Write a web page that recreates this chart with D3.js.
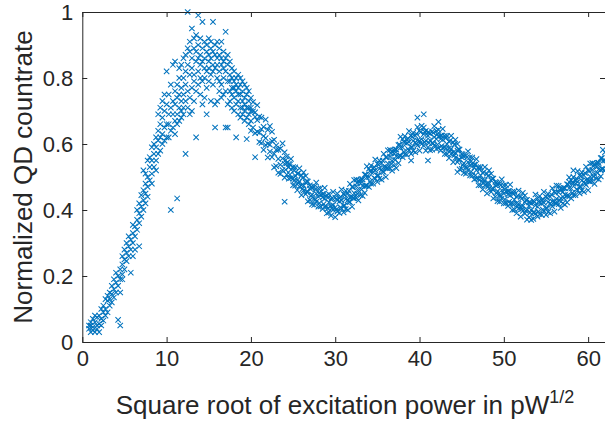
<!DOCTYPE html>
<html>
<head>
<meta charset="utf-8">
<script src="https://cdn.jsdelivr.net/npm/d3@7"></script>
<style>
  body { margin: 0; background: #fff; }
  svg text { font-family: "Liberation Sans", Arial, sans-serif; fill: #262626; }
</style>
</head>
<body>
<div id="chart"></div>
<script>
// Données : [x, [y, y, ...]]
const rise = [
  [0.8, [.05, .04]], [1.0, [.06, .03, .05]], [1.25, [.045, .07, .035]], [1.5, [.06, .03, .08]],
  [1.75, [.05, .075, .04]], [2.0, [.08, .055, .03]], [2.25, [.07, .10, .05]], [2.5, [.09, .065, .11]],
  [2.75, [.10, .08, .13]], [3.0, [.125, .09, .14]], [3.25, [.11, .15, .13]], [3.5, [.145, .12, .17]],
  [3.75, [.16, .135, .19]], [4.0, [.18, .15, .21]], [4.25, [.17, .20, .067]], [4.5, [.22, .19, .05, .15]],
  [4.75, [.235, .205, .26, .19]], [5.0, [.25, .22, .28]], [5.25, [.27, .245, .30]], [5.5, [.29, .26, .32]],
  [5.75, [.31, .28, .21]], [6.0, [.33, .30, .355, .26]], [6.25, [.35, .32, .28]], [6.5, [.37, .34, .40]],
  [6.75, [.39, .36, .42, .29]], [7.0, [.41, .38, .445]], [7.25, [.43, .40, .46, .52]], [7.5, [.45, .42, .48, .51]],
  [7.75, [.47, .44, .50, .55]], [8.0, [.49, .53, .56]], [8.25, [.51, .48, .55, .59]], [8.5, [.53, .57, .60]],
  [8.75, [.55, .59, .62, .52]], [9.0, [.57, .61, .64, .69]], [9.25, [.58, .62, .66, .71]], [9.5, [.60, .63, .68, .73]],
  [9.75, [.61, .65, .70, .75]], [10.0, [.62, .66, .72, .82]]
];

const peak = [
  [10.25, [.62, .69, .75, .66]], [10.5, [.64, .71, .40, .78]], [10.75, [.65, .73, .84, .69]],
  [11.0, [.67, .76, .72, .85, .63]], [11.25, [.69, .435, .78, .74, .66]], [11.5, [.71, .80, .75, .67, .83]],
  [11.75, [.73, .68, .84, .77, .70]], [12.0, [.75, .86, .71, .80, .69]], [12.25, [.78, .57, .87, .73, .82]],
  [12.5, [1.0, .84, .76, .89, .71]], [12.75, [.81, .88, .74, .91, .69]], [13.0, [.95, .83, .77, .86, .70]],
  [13.25, [.89, .81, .73, .92, .79]], [13.5, [.93, .62, .85, .76, .88]], [13.75, [.99, .82, .90, .78, .86]],
  [14.0, [.87, .80, .92, .75, .84]], [14.25, [.97, .85, .79, .89, .72]], [14.5, [.91, .83, .86, .74, .80]],
  [14.75, [.69, .88, .82, .90, .77]], [15.0, [.85, .92, .79, .87, .83]], [15.25, [.89, .81, .73, .86, .91]],
  [15.5, [.97, .84, .88, .78, .82]], [15.75, [.65, .90, .83, .87, .72]], [16.0, [.86, .80, .91, .73, .84]],
  [16.25, [.89, .82, .76, .87, .79]], [16.5, [.84, .91, .78, .86, .74]], [16.75, [.88, .80, .83, .75, .85]],
  [17.0, [.94, .82, .76, .86, .65]], [17.25, [.84, .79, .72, .87, .65]], [17.5, [.81, .85, .76, .73, .79]],
  [17.75, [.83, .77, .80, .71, .75]], [18.0, [.79, .82, .74, .70, .77]], [18.25, [.80, .76, .62, .72, .78]],
  [18.5, [.77, .81, .73, .69, .75]], [18.75, [.78, .71, .75, .68, .80]], [19.0, [.76, .73, .69, .79, .71]],
  [19.25, [.74, .78, .70, .67, .72]], [19.5, [.75, .71, .615, .68, .77]], [19.75, [.73, .69, .76, .66, .71]],
  [20.0, [.71, .74, .67, .64, .70]]
];

const fall = [
  [20.25, [.699, .65, .727]], [20.5, [.633, .696, .682, .56]], [20.75, [.637, .718, .672]],
  [21.0, [.634, .683, .606]], [21.25, [.645, .68, .603]], [21.5, [.652, .582, .624]],
  [21.75, [.674, .618, .597]], [22.0, [.643, .601, .559]], [22.25, [.654, .598, .577]],
  [22.5, [.609, .56, .637]], [22.75, [.613, .571, .529]], [23.0, [.533, .596, .582]],
  [23.25, [.583, .513, .555]], [23.5, [.537, .586, .509]], [23.75, [.521, .602, .556]],
  [24.0, [.54, .575, .498, .425]], [24.25, [.542, .507, .562]], [24.5, [.495, .54, .53]],
  [24.75, [.497, .555, .522]], [25.0, [.495, .53, .475]], [25.25, [.504, .529, .474]],
  [25.5, [.51, .46, .49]], [25.75, [.526, .486, .471]], [26.0, [.505, .475, .445]],
  [26.25, [.514, .474, .459]], [26.5, [.483, .448, .503]], [26.75, [.486, .456, .426]],
  [27.0, [.43, .475, .465]], [27.25, [.467, .417, .447]], [27.5, [.435, .47, .415]],
  [27.75, [.425, .483, .45]], [28.0, [.44, .465, .41]], [28.25, [.446, .411, .466]],
  [28.5, [.403, .448, .438]], [28.75, [.409, .467, .434]], [29.0, [.41, .445, .39]],
  [29.25, [.423, .448, .393]], [29.5, [.433, .383, .413]], [29.75, [.455, .415, .40]],
  [30.0, [.438, .408, .378]]
];

const hump = [
  [30.25, [.43, .395, .45]], [30.5, [.391, .436, .426]], [30.75, [.404, .462, .429]],
  [31.0, [.413, .448, .393]], [31.25, [.433, .458, .403]], [31.5, [.45, .40, .43]],
  [31.75, [.479, .439, .424]], [32.0, [.47, .44, .41]], [32.25, [.491, .451, .436]],
  [32.5, [.472, .437, .492]], [32.75, [.489, .459, .429]], [33.0, [.445, .49, .48]],
  [33.25, [.493, .443, .473]], [33.5, [.472, .507, .452]], [33.75, [.474, .532, .499]],
  [34.0, [.50, .525, .47]], [34.25, [.515, .48, .535]], [34.5, [.48, .525, .515]],
  [34.75, [.495, .553, .52]], [35.0, [.505, .54, .485]], [35.25, [.525, .55, .495]],
  [35.5, [.542, .492, .522]], [35.75, [.57, .53, .515]], [36.0, [.56, .53, .50]],
  [36.25, [.581, .541, .526]], [36.5, [.562, .527, .582]], [36.75, [.579, .549, .519]],
  [37.0, [.535, .58, .57]], [37.25, [.583, .527, .563]], [37.5, [.562, .597, .542]],
  [37.75, [.564, .622, .589]], [38.0, [.59, .615, .56]], [38.25, [.604, .569, .624]],
  [38.5, [.568, .613, .603]], [38.75, [.581, .639, .606]], [39.0, [.59, .625, .57, .55]],
  [39.25, [.609, .634, .579]], [39.5, [.625, .575, .605]], [39.75, [.651, .611, .596, .68]],
  [40.0, [.64, .61, .58]], [40.25, [.655, .615, .60]], [40.5, [.63, .595, .65, .69]],
  [40.75, [.64, .61, .58]], [41.0, [.59, .635, .625, .55]], [41.25, [.631, .581, .611]],
  [41.5, [.603, .638, .583]], [41.75, [.596, .654, .621]], [42.0, [.615, .64, .585]],
  [42.25, [.623, .588, .643, .667]], [42.5, [.58, .625, .615]], [42.75, [.588, .646, .613]],
  [43.0, [.59, .625, .57]], [43.25, [.60, .625, .57]], [43.5, [.607, .557, .587]],
  [43.75, [.625, .585, .57]], [44.0, [.605, .575, .545]], [44.25, [.613, .573, .558]],
  [44.5, [.58, .545, .60, .515]], [44.75, [.583, .553, .523]], [45.0, [.525, .57, .56]],
  [45.25, [.562, .512, .542]], [45.5, [.53, .565, .51]], [45.75, [.52, .578, .545]]
];

const tail = [
  [46.0, [.535, .56, .505]], [46.25, [.539, .504, .559]], [46.5, [.493, .538, .528]],
  [46.75, [.496, .554, .521]], [47.0, [.495, .53, .475]], [47.25, [.505, .53, .475]],
  [47.5, [.512, .462, .492]], [47.75, [.53, .49, .475]], [48.0, [.51, .48, .45]],
  [48.25, [.52, .48, .465]], [48.5, [.49, .455, .51]], [48.75, [.495, .465, .435]],
  [49.0, [.44, .485, .475]], [49.25, [.477, .427, .457]], [49.5, [.445, .48, .425]],
  [49.75, [.435, .493, .46]], [50.0, [.45, .475, .42]], [50.25, [.456, .421, .476]],
  [50.5, [.412, .457, .447]], [50.75, [.419, .477, .444]], [51.0, [.42, .455, .40]],
  [51.25, [.431, .456, .401]], [51.5, [.44, .39, .42]], [51.75, [.459, .419, .404]],
  [52.0, [.44, .41, .38]], [52.25, [.452, .412, .397]], [52.5, [.424, .389, .444]],
  [52.75, [.431, .401, .371]], [53.0, [.378, .423, .413]], [53.25, [.42, .37, .40]],
  [53.5, [.393, .428, .373]], [53.75, [.389, .447, .414]], [54.0, [.41, .435, .38]],
  [54.25, [.422, .387, .442]], [54.5, [.385, .43, .42]], [54.75, [.397, .455, .422]],
  [55.0, [.405, .44, .385]], [55.25, [.424, .449, .394]], [55.5, [.44, .39, .42]],
  [55.75, [.466, .426, .411]], [56.0, [.455, .425, .395]], [56.25, [.474, .434, .419]],
  [56.5, [.453, .418, .473]], [56.75, [.466, .436, .406]], [57.0, [.42, .465, .455]],
  [57.25, [.466, .416, .446]], [57.5, [.443, .478, .423]], [57.75, [.441, .499, .466, .485]],
  [58.0, [.465, .49, .435]], [58.25, [.48, .445, .50, .52]], [58.5, [.445, .49, .48]],
  [58.75, [.46, .518, .485]], [59.0, [.47, .505, .45]], [59.25, [.489, .514, .459]],
  [59.5, [.505, .455, .485]], [59.75, [.531, .491, .476]], [60.0, [.52, .49, .46]],
  [60.25, [.541, .501, .486]], [60.5, [.522, .487, .542]], [60.75, [.539, .509, .479]],
  [61.0, [.495, .54, .53]], [61.25, [.543, .493, .523]], [61.5, [.522, .557, .502]],
  [61.75, [.524, .582, .549]], [62.0, [.55, .575, .52]]
];

// points intermédiaires de la bande (24 à 62)
const band = [
  [24.125, [.551, .522]], [24.625, [.507, .538]], [25.125, [.52, .489]], [25.625, [.481, .511]],
  [26.125, [.497, .464]], [26.625, [.455, .488]], [27.125, [.47, .442]], [27.625, [.432, .462]],
  [28.125, [.452, .421]], [28.625, [.418, .449]], [29.125, [.437, .405]], [29.625, [.406, .436]],
  [30.125, [.433, .401]], [30.625, [.408, .44]], [31.125, [.446, .414]], [31.625, [.425, .458]],
  [32.125, [.469, .436]], [32.625, [.449, .482]], [33.125, [.494, .462]], [33.625, [.474, .507]],
  [34.125, [.518, .486]], [34.625, [.497, .53]], [35.125, [.538, .505]], [35.625, [.516, .55]],
  [36.125, [.559, .527]], [36.625, [.54, .572]], [37.125, [.584, .552]], [37.625, [.565, .598]],
  [38.125, [.607, .576]], [38.625, [.585, .617]], [39.125, [.622, .591]], [39.625, [.60, .631]],
  [40.125, [.636, .604]], [40.625, [.605, .637]], [41.125, [.635, .603]], [41.625, [.602, .634]],
  [42.125, [.63, .598]], [42.625, [.594, .626]], [43.125, [.618, .586]], [43.625, [.578, .61]],
  [44.125, [.598, .566]], [44.625, [.552, .584]], [45.125, [.568, .536]], [45.625, [.528, .56]],
  [46.125, [.548, .516]], [46.625, [.505, .537]], [47.125, [.523, .491]], [47.625, [.483, .515]],
  [48.125, [.503, .471]], [48.625, [.463, .495]], [49.125, [.483, .451]], [49.625, [.443, .475]],
  [50.125, [.463, .432]], [50.625, [.425, .457]], [51.125, [.448, .417]], [51.625, [.411, .443]],
  [52.125, [.434, .403]], [52.625, [.397, .429]], [53.125, [.423, .392]], [53.625, [.393, .425]],
  [54.125, [.426, .395]], [54.625, [.401, .433]], [55.125, [.437, .406]], [55.625, [.415, .447]],
  [56.125, [.452, .421]], [56.625, [.429, .461]], [57.125, [.467, .436]], [57.625, [.445, .477]],
  [58.125, [.483, .452]], [58.625, [.463, .495]], [59.125, [.502, .471]], [59.625, [.48, .512]],
  [60.125, [.518, .487]], [60.625, [.501, .533]], [61.125, [.543, .512]], [61.625, [.525, .557]]
];

const xTicks = [0, 10, 20, 30, 40, 50, 60];
const yTicks = [0, 0.2, 0.4, 0.6, 0.8, 1];

const points = [...rise, ...peak, ...fall, ...hump, ...tail, ...band]
  .flatMap(([x, ys]) => ys.map(y => ({x, y})));

// Configuration
const W = 605, H = 421;
const margin = {left: 82.3, right: 605, top: 12, bottom: 342};
const axisColor = "#262626";

const svg = d3.select("#chart").append("svg")
  .attr("width", W).attr("height", H);

const xScale = d3.scaleLinear().domain([0, 62]).range([margin.left, margin.right]);
const yScale = d3.scaleLinear().domain([0, 1]).range([margin.bottom, margin.top]);

// Points (marqueur x)
const s = 2.7;
svg.append("g").selectAll("path")
  .data(points)
  .enter().append("path")
  .attr("transform", d => `translate(${xScale(d.x)},${yScale(d.y)})`)
  .attr("d", `M${-s},${-s}L${s},${s}M${-s},${s}L${s},${-s}`)
  .attr("fill", "none")
  .attr("stroke", "#0072BD")
  .attr("stroke-width", 1.05);

// Axes (boîte, ticks vers l'intérieur)
const fmt = d => d3.format("~g")(d);
const ax = [
  svg.append("g").attr("transform", `translate(0,${margin.bottom})`).call(d3.axisBottom(xScale).tickValues(xTicks).tickSizeInner(-5).tickSizeOuter(0).tickPadding(8)),
  svg.append("g").attr("transform", `translate(0,${margin.top})`).call(d3.axisTop(xScale).tickValues(xTicks).tickSizeInner(-5).tickSizeOuter(0).tickFormat("")),
  svg.append("g").attr("transform", `translate(${margin.left},0)`).call(d3.axisLeft(yScale).tickValues(yTicks).tickSizeInner(-5).tickSizeOuter(0).tickPadding(9).tickFormat(fmt)),
  svg.append("g").attr("transform", `translate(${margin.right},0)`).call(d3.axisRight(yScale).tickValues(yTicks).tickSizeInner(-5).tickSizeOuter(0).tickFormat(""))
];
ax.forEach(g => {
  g.selectAll("path, line").attr("stroke", axisColor).attr("stroke-width", 1);
  g.selectAll("text").attr("fill", axisColor)
    .style("font-size", "22px").style("font-family", "'Liberation Sans', Arial, sans-serif");
});

// Labels des axes
const xl = svg.append("text")
  .attr("x", 345).attr("y", 414)
  .attr("text-anchor", "middle")
  .style("font-size", "26px");
xl.append("tspan").text("Square root of excitation power in pW");
xl.append("tspan").attr("dy", -11).style("font-size", "18px").text("1/2");

svg.append("text")
  .attr("transform", `translate(32,${(margin.top + margin.bottom) / 2}) rotate(-90)`)
  .attr("text-anchor", "middle")
  .style("font-size", "26px")
  .text("Normalized QD countrate");
</script>
</body>
</html>
